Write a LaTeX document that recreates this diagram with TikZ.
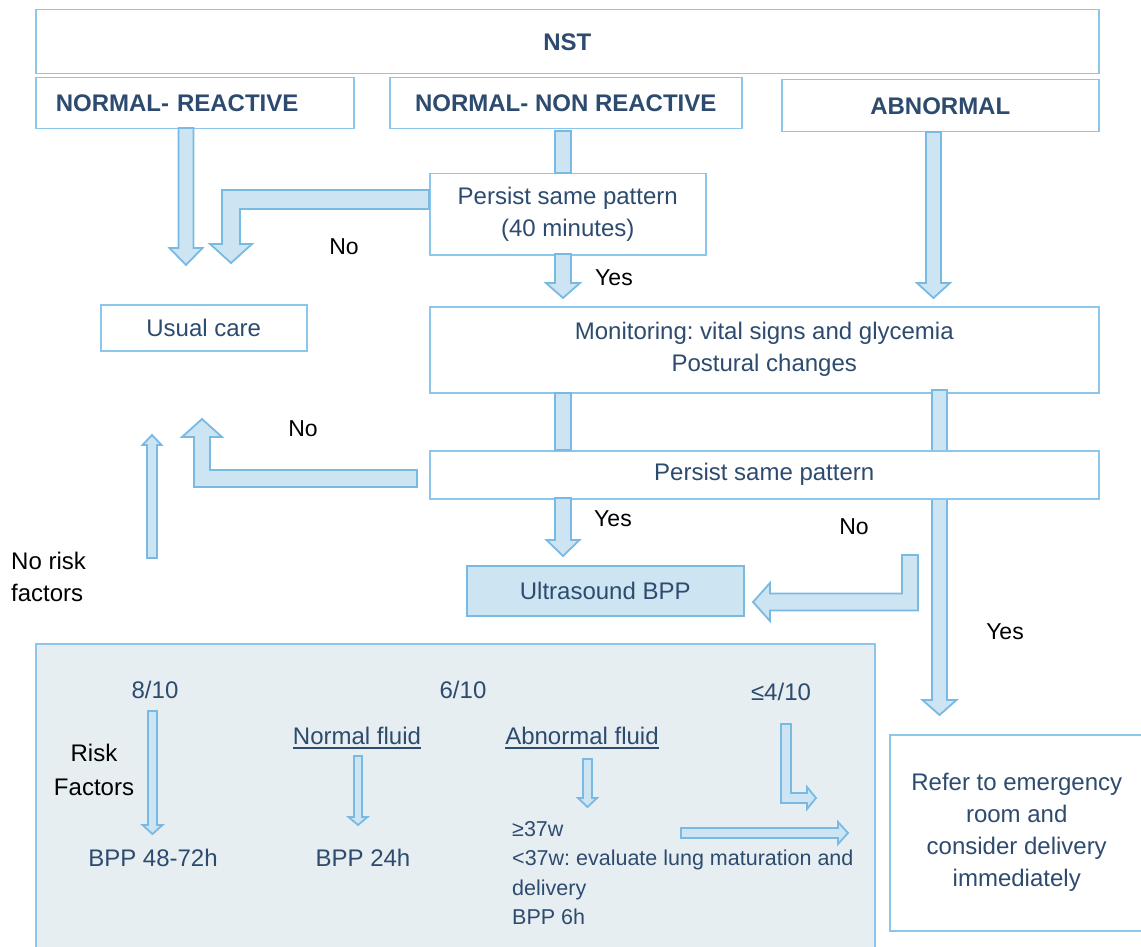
\documentclass[tikz,border=0pt]{standalone}
\usepackage{fontspec}
\setmainfont{Liberation Sans}
\usetikzlibrary{calc}
\frenchspacing

\definecolor{boxline}{HTML}{8CC6EA}
\definecolor{arrowline}{HTML}{78BAE3}
\definecolor{arrowfill}{HTML}{CDE4F2}
\definecolor{panelfill}{HTML}{E7EEF2}
\definecolor{txt}{HTML}{2D4B6E}

\newcommand{\downblock}[5]{\draw[blockarrow] let \p1=(#1), \p2=(#2) in
  (\x1-#3pt,\y1) -- (\x1-#3pt,\y2+#5pt) -- (\x1-#4pt,\y2+#5pt) -- (\x1,\y2)
  -- (\x1+#4pt,\y2+#5pt) -- (\x1+#3pt,\y2+#5pt) -- (\x1+#3pt,\y1) -- cycle;}
\newcommand{\upblock}[5]{\draw[blockarrow] let \p1=(#1), \p2=(#2) in
  (\x1-#3pt,\y1) -- (\x1-#3pt,\y2-#5pt) -- (\x1-#4pt,\y2-#5pt) -- (\x1,\y2)
  -- (\x1+#4pt,\y2-#5pt) -- (\x1+#3pt,\y2-#5pt) -- (\x1+#3pt,\y1) -- cycle;}
\newcommand{\rightblock}[5]{\draw[blockarrow] let \p1=(#1), \p2=(#2) in
  (\x1,\y1+#3pt) -- (\x2-#5pt,\y1+#3pt) -- (\x2-#5pt,\y1+#4pt) -- (\x2,\y1)
  -- (\x2-#5pt,\y1-#4pt) -- (\x2-#5pt,\y1-#3pt) -- (\x1,\y1-#3pt) -- cycle;}

\begin{document}
\begin{tikzpicture}[x=1pt,y=-1pt,
  every node/.style={font=\fontsize{24}{32}\selectfont},
  box/.style={draw=boxline,line width=1.5pt,fill=white,inner sep=0pt,
    anchor=north west,align=center,text=txt},
  head/.style={box,font=\fontsize{24}{32}\selectfont\bfseries},
  blockarrow/.style={draw=arrowline,fill=arrowfill,line width=1.8pt},
  answer/.style={text=black,font=\fontsize{23}{32}\selectfont},
  score/.style={text=txt,inner sep=0pt},
  ul/.style={inner sep=0pt,text depth=4pt,anchor=base,
    append after command={(\tikzlastnode.south west) edge[draw=txt,line width=1.8pt] (\tikzlastnode.south east)}}]
\useasboundingbox (0,0) rectangle (1141,947);

% boxes
\node[head,minimum width=1063,minimum height=64] (nst) at (35,9) {NST};
\node[head,minimum width=318,minimum height=51,text width=278,inner xsep=20pt,align=left] (react) at (35,77) {NORMAL- REACTIVE};
\node[head,minimum width=352,minimum height=51] (nonreact) at (389,77) {NORMAL- NON REACTIVE};
\node[head,minimum width=317,minimum height=52] (abnorm) at (781,79) {ABNORMAL};
\node[box,minimum width=276,minimum height=81] (persist1) at (429,173) {Persist same pattern\\(40 minutes)};
\node[box,minimum width=206,minimum height=46] (usual) at (100,304) {Usual care};
\node[box,minimum width=669,minimum height=86] (monitor) at (429,306) {Monitoring: vital signs and glycemia\\Postural changes};
\node[box,fill=panelfill,minimum width=839,minimum height=330] (panel) at (35,643) {};
\node[box,minimum width=254,minimum height=196] (refer) at (889,734) {Refer to emergency\\room and\\consider delivery\\immediately};
\node[box,fill=arrowfill,draw=arrowline,minimum width=277,minimum height=50] (ultra) at (466,565) {Ultrasound BPP};

% arrow ends
\coordinate (a1s) at (186,128);   \coordinate (a1t) at (186,265);
\coordinate (s1a) at (563,131);   \coordinate (s1b) at (563,173);
\coordinate (a3s) at (563,254);   \coordinate (a3t) at (563,298);
\coordinate (a4s) at (933.5,132); \coordinate (a4t) at (933.5,298);
\coordinate (s2a) at (563,393);   \coordinate (s2b) at (563,450);
\coordinate (a6s) at (563,498);   \coordinate (a6t) at (563,556);
\coordinate (a7s) at (939.5,390); \coordinate (a7t) at (939.5,715);
\coordinate (p1n) at (429,199.5); \coordinate (l1t) at (231,263);
\coordinate (p2w) at (417,478.5); \coordinate (l2t) at (202,419);
\coordinate (n3) at (910,555);    \coordinate (l3t) at (753,602);
\coordinate (n4) at (786,724);    \coordinate (l4t) at (816,798);
\coordinate (rks) at (152,558);   \coordinate (rkt) at (152,435);
\coordinate (e8s) at (152.5,711); \coordinate (e8t) at (152.5,834);
\coordinate (nfs) at (358,756);   \coordinate (nft) at (358,825);
\coordinate (afs) at (587.5,759); \coordinate (aft) at (587.5,807);
\coordinate (rts) at (681,833);   \coordinate (rtt) at (848,833);

\downblock{a7s}{a7t}{7.5}{17}{15}
\node[box,minimum width=669,minimum height=48] (persist2) at (429,450) {Persist same pattern};

\downblock{a1s}{a1t}{7.5}{16.5}{17}
\draw[blockarrow] ($(s1a)+(-8,0)$) rectangle ($(s1b)+(8,0)$);
\downblock{a3s}{a3t}{8}{17}{15}
\downblock{a4s}{a4t}{7.5}{16.5}{15}
\draw[blockarrow] ($(s2a)+(-8,0)$) rectangle ($(s2b)+(8,0)$);
\downblock{a6s}{a6t}{8}{16.5}{16}

% bent arrows
\draw[blockarrow] ($(p1n)+(0,-9.5)$) -| ($(l1t)+(-9,-19)$) -- ++(-12,0) -- (l1t)
  -- ($(l1t)+(21,-19)$) -- ++(-12,0) |- ($(p1n)+(0,9.5)$) -- cycle;
\draw[blockarrow] ($(p2w)+(0,-8.5)$) -| ($(l2t)+(8,18)$) -- ++(12,0) -- (l2t)
  -- ($(l2t)+(-20,18)$) -- ++(12,0) |- ($(p2w)+(0,8.5)$) -- cycle;
\draw[blockarrow] ($(n3)+(-8,0)$) |- ($(l3t)+(17,-8.5)$) -- ++(0,-10.5) -- (l3t)
  -- ($(l3t)+(17,19)$) -- ++(0,-10.5) -| ($(n3)+(8,0)$) -- cycle;
\draw[blockarrow] ($(n4)+(-5,0)$) |- ($(l4t)+(-9,5)$) -- ++(0,6) -- (l4t)
  -- ($(l4t)+(-9,-11)$) -- ++(0,6) -| ($(n4)+(5,0)$) -- cycle;

% thin arrows
\upblock{rks}{rkt}{5}{9.5}{10}
\downblock{e8s}{e8t}{4.5}{10}{9}
\downblock{nfs}{nft}{4}{9.5}{8}
\downblock{afs}{aft}{4.5}{9.5}{9}
\rightblock{rts}{rtt}{5}{11}{10}

% labels
\node[answer] (no1) at (344,247) {No};
\node[answer] (yes1) at (614,278) {Yes};
\node[answer] (no2) at (303,429) {No};
\node[answer] (yes2) at (613,519) {Yes};
\node[answer] (no3) at (854,527) {No};
\node[answer] (yes3) at (1005,632) {Yes};
\node[answer,align=left,anchor=west,inner sep=0pt,font=\fontsize{24}{32}\selectfont] (norisk) at (11,577) {No risk\\factors};
\node[answer,align=center,font=\fontsize{24}{34}\selectfont] (riskf) at (94,770) {Risk\\Factors};

\node[score] (s8) at (155,690) {8/10};
\node[score] (s6) at (463,690) {6/10};
\node[score] (s4) at (781,692) {≤4/10};
\node[score,ul] (nfl) at (357,744) {Normal fluid};
\node[score,ul] (afl) at (582,744) {Abnormal fluid};
\node[score] (b48) at (153,858) {BPP 48-72h};
\node[score] (b24) at (363,858) {BPP 24h};
\node[score,align=left,anchor=north west,font=\fontsize{21.5}{29.5}\selectfont] (abtxt) at (512,821) {≥37w\\<37w: evaluate lung maturation and\\delivery\\BPP 6h};
\end{tikzpicture}
\end{document}
